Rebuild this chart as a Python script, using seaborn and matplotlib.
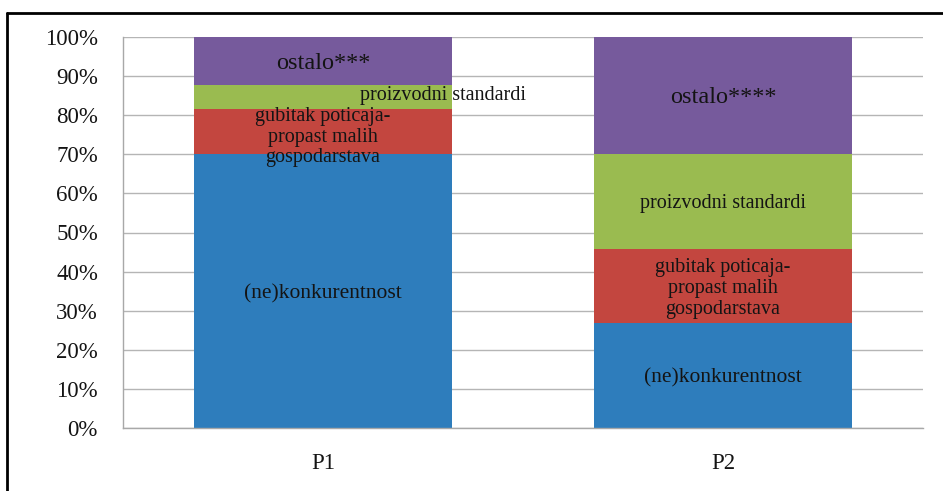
import pandas as pd
import numpy as np
import seaborn as sns
import matplotlib.pyplot as plt
from matplotlib.lines import Line2D

# Data (shares in %)
groups = ["P1", "P2"]
segments = ["(ne)konkurentnost", "gubitak poticaja-\npropast malih\ngospodarstava",
            "proizvodni standardi", "ostalo"]
p1_values = [70.0, 11.6, 6.1, 12.3]
p2_values = [26.8, 19.0, 24.2, 30.0]
ostalo_labels = ["ostalo***", "ostalo****"]
colors = ["#2E7DBC", "#C3463F", "#9ABB50", "#765A9C"]

sns.set_style("white")
plt.rcParams["font.family"] = ["Liberation Serif", "DejaVu Serif"]

fig = plt.figure(figsize=(9.43, 4.91), dpi=100)
ax = fig.add_axes([123 / 943, 1 - 428 / 491, 800 / 943, 391 / 491])

values = np.array([p1_values, p2_values])
cum = values.cumsum(axis=1)

# stacked bars: draw cumulative totals from the top down
for i in range(len(segments) - 1, -1, -1):
    df = pd.DataFrame({"group": groups, "total": cum[:, i]})
    sns.barplot(data=df, x="group", y="total", color=colors[i], width=0.645,
                saturation=1, ax=ax, zorder=2, linewidth=0)

# labels inside the segments
txt = "#141414"
for g in range(len(groups)):
    bottoms = cum[g] - values[g]
    for i in range(len(segments)):
        y = bottoms[i] + values[g][i] / 2
        x = g
        label = segments[i]
        size = 14.5
        if i == 0:
            size = 15.5
        if i == 3:
            label = ostalo_labels[g]
            size = 17.5
        if g == 0 and i == 2:
            x = g + 0.3
            y = y + 0.9
        if g == 0 and i == 1:
            y = y - 0.8
        ax.text(x, y - 0.6, label, ha="center", va="center", fontsize=size,
                color=txt, linespacing=1.12, zorder=3)

ax.set_ylim(0, 100)
ax.set_xlim(-0.5, 1.5)
ax.set_yticks(np.arange(0, 101, 10))
ax.set_yticklabels([f"{v}%" for v in range(0, 101, 10)], fontsize=16.5, color=txt)
ax.set_xticks([0, 1])
ax.set_xticklabels(groups, fontsize=16.5, color=txt)
ax.set_xlabel("")
ax.set_ylabel("")
ax.yaxis.grid(True, color="#B5B5B5", linewidth=1, zorder=0)
ax.set_axisbelow(True)
for s in ["top", "right"]:
    ax.spines[s].set_visible(False)
for s in ["left", "bottom"]:
    ax.spines[s].set_color("#A8A8A8")
    ax.spines[s].set_linewidth(1)
ax.tick_params(axis="y", length=0, pad=18)
ax.tick_params(axis="x", length=0, pad=18)

# outer frame (top and left only visible)
fig.add_artist(Line2D([7.5 / 943, 7.5 / 943], [0, 1 - 12.5 / 491],
                      transform=fig.transFigure, color="black", linewidth=2))
fig.add_artist(Line2D([7.5 / 943, 1], [1 - 12.5 / 491, 1 - 12.5 / 491],
                      transform=fig.transFigure, color="black", linewidth=2))

fig.savefig("out.png", dpi=100)
